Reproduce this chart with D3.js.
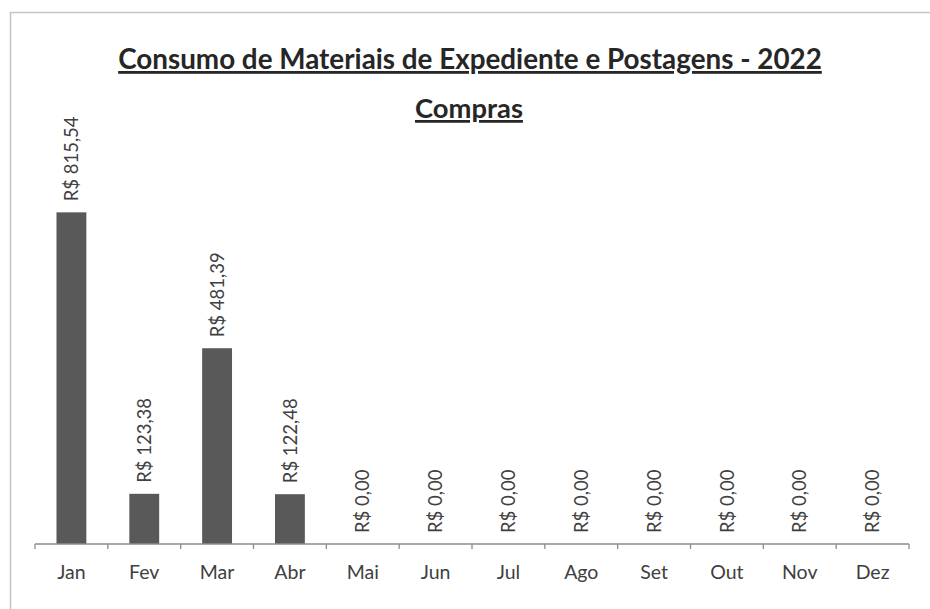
<!DOCTYPE html>
<html>
<head>
<meta charset="utf-8">
<script src="https://cdn.jsdelivr.net/npm/d3@7"></script>
<style>
  body { margin: 0; background: #fff; }
  svg text { font-family: Lato, "Open Sans", sans-serif; }
</style>
</head>
<body>
<div id="chart"></div>
<script>
const months = ['Jan', 'Fev', 'Mar', 'Abr', 'Mai', 'Jun', 'Jul', 'Ago', 'Set', 'Out', 'Nov', 'Dez'];
const compras = [815.54, 123.38, 481.39, 122.48, 0, 0, 0, 0, 0, 0, 0, 0];
const titleText = 'Consumo de Materiais de Expediente e Postagens - 2022';
const subtitleText = 'Compras';

const fmt = v => 'R$ ' + v.toFixed(2).replace('.', ',');

const W = 930, H = 609;
const margin = { top: 178, right: 21, bottom: 65, left: 35 };
const width = W - margin.left - margin.right;
const height = H - margin.top - margin.bottom;

const svg = d3.select('#chart').append('svg')
  .attr('width', W)
  .attr('height', H);

// outer frame (only top and left show in the scan)
svg.append('path')
  .attr('d', 'M10.5,' + H + 'V12.5H' + W)
  .attr('fill', 'none')
  .attr('stroke', '#c4c4c4')
  .attr('stroke-width', 1.5);

// scale font so a text gets a target width
function fitText(sel, target) {
  const len = sel.node().getComputedTextLength();
  const fs = parseFloat(sel.attr('font-size'));
  const nfs = fs * target / len;
  sel.attr('font-size', nfs);
  return nfs;
}
const title = svg.append('text')
  .attr('x', 470).attr('y', 69)
  .attr('text-anchor', 'middle')
  .attr('font-size', 26)
  .attr('font-weight', 'bold')
  .attr('fill', '#262626')
  .attr('text-decoration', 'underline')
  .text(titleText);
fitText(title, 704);

const sub = svg.append('text')
  .attr('x', 469).attr('y', 118)
  .attr('text-anchor', 'middle')
  .attr('font-size', 24)
  .attr('font-weight', 'bold')
  .attr('fill', '#262626')
  .attr('text-decoration', 'underline')
  .text(subtitleText);
fitText(sub, 108);

const g = svg.append('g').attr('transform', 'translate(' + margin.left + ',' + margin.top + ')');

const x = d3.scaleBand()
  .domain(months)
  .range([0, width])
  .paddingInner(0.59)
  .paddingOuter(0.295);

const xAxisScale = d3.scaleBand().domain(months).range([0, width]);

const y = d3.scaleLinear()
  .domain([0, 900])
  .range([height, 0]);

const data = months.map((m, i) => ({ month: m, value: compras[i] }));

g.selectAll('rect.bar')
  .data(data)
  .enter().append('rect')
    .attr('class', 'bar')
    .attr('x', d => x(d.month))
    .attr('y', d => y(d.value))
    .attr('width', x.bandwidth())
    .attr('height', d => height - y(d.value))
    .attr('fill', '#595959');

// x axis with ticks between categories
const axis = g.append('g').attr('transform', 'translate(0,' + height + ')');
axis.append('line')
  .attr('x1', 0).attr('x2', width)
  .attr('stroke', '#8c8c8c').attr('stroke-width', 1.3);
axis.selectAll('line.tick')
  .data(months.concat(['end']))
  .enter().append('line')
    .attr('class', 'tick')
    .attr('x1', (d, i) => i < months.length ? xAxisScale(d) : width)
    .attr('x2', (d, i) => i < months.length ? xAxisScale(d) : width)
    .attr('y1', 0).attr('y2', 5)
    .attr('stroke', '#8c8c8c').attr('stroke-width', 1.3);
axis.selectAll('text')
  .data(months)
  .enter().append('text')
    .attr('x', d => xAxisScale(d) + xAxisScale.bandwidth() / 2)
    .attr('y', 35)
    .attr('text-anchor', 'middle')
    .attr('font-size', 19.5)
    .attr('fill', '#404040')
    .text(d => d);

// rotated value labels
const vals = g.selectAll('text.val')
  .data(data)
  .enter().append('text')
    .attr('class', 'val')
    .attr('transform', d => 'translate(' + (x(d.month) + x.bandwidth() / 2) + ',' + (y(d.value) - 11) + ') rotate(-90)')
    .attr('dy', '0.36em')
    .attr('font-size', 16.5)
    .attr('fill', '#404040')
    .text(d => fmt(d.value));
// size all labels off the "R$ 481,39" one (~85px long in the scan)
const fs = fitText(vals.filter((d, i) => i === 2), 85);
vals.attr('font-size', fs);
</script>
</body>
</html>
